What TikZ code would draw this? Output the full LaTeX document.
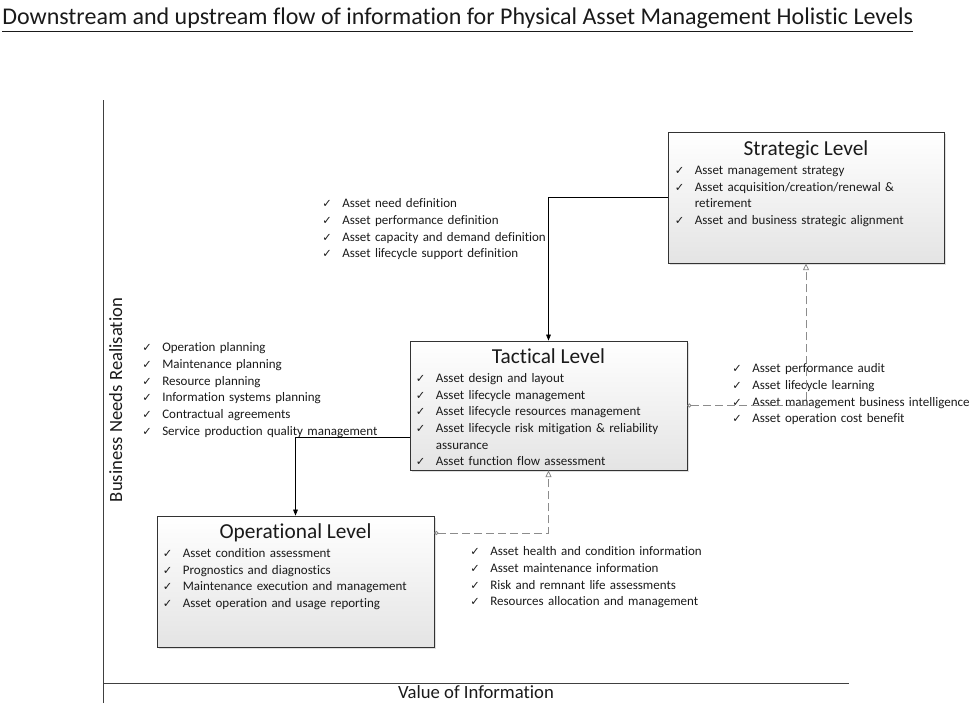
\documentclass[tikz,border=0pt]{standalone}
\usepackage{fontspec}
\setmainfont{Carlito}[Ligatures=NoCommon]
\newfontfamily\symfont{DejaVu Sans}
\usepackage{tikz}
\usetikzlibrary{positioning}
\usetikzlibrary{calc,arrows.meta}
\usetikzlibrary{shadows}
\definecolor{pam-text}{HTML}{1A1A1A}
\definecolor{pam-axis}{HTML}{404040}
\definecolor{pam-dash}{HTML}{8C8C8C}
\definecolor{pam-shade}{HTML}{E4E4E4}
\newcommand{\chk}{{\symfont\fontsize{8.5}{8.5}\selectfont ✓}}
\newcommand{\itm}[1]{\par\noindent\hangindent=15pt\hangafter=1\makebox[15pt][l]{\chk}#1\strut}

\begin{document}
\begin{tikzpicture}[
    x=0.75pt, y=-0.75pt, % one unit = one pixel of the page
    font=\fontsize{9.75}{12.5}\selectfont,
    >={Triangle[length=4.5pt,width=3.5pt]}
  ]

  \tikzset{
    level/.style={draw=black!80, line width=0.6pt, top color=white, bottom color=pam-shade, drop shadow={shadow xshift=1.5pt, shadow yshift=-1.5pt, opacity=0.25}, inner sep=0pt},
    leveltitle/.style={font=\fontsize{16}{19}\selectfont, inner sep=0pt, text=pam-text},
    checks/.style={text width=200pt, align=left, inner sep=0pt, anchor=north west, text=pam-text},
    down/.style={->, black, line width=0.6pt},
    up/.style={{Circle[open,length=3pt]}-{Triangle[open,length=5pt,width=4.5pt]}, pam-dash, line width=0.6pt, dash pattern=on 6pt off 3pt},
    axis/.style={pam-axis, line width=0.75pt}
  }

  \useasboundingbox (0,0) rectangle (971,705);

  % Heading
  \node (title) [font=\fontsize{18}{22}\selectfont, anchor=base west, inner sep=0pt, text=pam-text] at (2,25)
    {\underline{Downstream and upstream flow of information for Physical Asset Management Holistic Levels}};

  % Axes
  \coordinate (ytop) at (103,100);
  \coordinate (ybot) at (103,703);
  \coordinate (xstart) at (103,683);
  \coordinate (xend) at (849,683);
  \draw[axis] (ybot) -- (ytop);
  \draw[axis] (xstart) -- (xend);
  \node (xlabel) [font=\fontsize{14}{17}\selectfont, anchor=base, text=pam-text] at (476,698) {Value of Information};
  \node (ylabel) [font=\fontsize{14}{17}\selectfont, rotate=90, anchor=base, text=pam-text] at (122,400) {Business Needs Realisation};

  % The three levels
  \node (strat) [level, minimum width=207pt, minimum height=98.25pt] at (806,197.5) {};
  \node (tact)  [level, minimum width=207.75pt, minimum height=96.75pt] at (548.5,405.5) {};
  \node (oper)  [level, minimum width=207.75pt, minimum height=98.25pt] at (295.5,581.5) {};

  \node (strattitle) [leveltitle, below=6.5pt of strat.north] {Strategic Level};
  \node (tacttitle)  [leveltitle, below=6pt of tact.north] {Tactical Level};
  \node (opertitle)  [leveltitle, below=6pt of oper.north] {Operational Level};

  \node (stratlist) [checks, text width=195pt] at ($(strat.north west)+(7,26)$) {
    \itm{Asset management strategy}
    \itm{Asset acquisition/creation/renewal \& retirement}
    \itm{Asset and business strategic alignment}};
  \node (tactlist) [checks, text width=198pt] at ($(tact.north west)+(6,25)$) {
    \itm{Asset design and layout}
    \itm{Asset lifecycle management}
    \itm{Asset lifecycle resources management}
    \itm{Asset lifecycle risk mitigation \& reliability assurance}
    \itm{Asset function flow assessment}};
  \node (operlist) [checks, text width=198pt] at ($(oper.north west)+(6,25)$) {
    \itm{Asset condition assessment}
    \itm{Prognostics and diagnostics}
    \itm{Maintenance execution and management}
    \itm{Asset operation and usage reporting}};

  % Lists beside the connectors
  \node (needs) [checks] at (322,191) {
    \itm{Asset need definition}
    \itm{Asset performance definition}
    \itm{Asset capacity and demand definition}
    \itm{Asset lifecycle support definition}};
  \node (plans) [checks] at (142,335) {
    \itm{Operation planning}
    \itm{Maintenance planning}
    \itm{Resource planning}
    \itm{Information systems planning}
    \itm{Contractual agreements}
    \itm{Service production quality management}};
  \node (audit) [checks] at (732,356) {
    \itm{Asset performance audit}
    \itm{Asset lifecycle learning}
    \itm{Asset management business intelligence}
    \itm{Asset operation cost benefit}};
  \node (health) [checks] at (470,539) {
    \itm{Asset health and condition information}
    \itm{Asset maintenance information}
    \itm{Risk and remnant life assessments}
    \itm{Resources allocation and management}};

  % Downstream flow
  \draw[down] (strat.west) -| (tact.north);
  \draw[down] ($(tact.west)+(0,31.5)$) -| (oper.north);

  % Upstream flow
  \draw[up] ($(oper.east)+(0,-48.5)$) -| (tact.south);
  \draw[up] (tact.east) -| (strat.south);

\end{tikzpicture}
\end{document}
